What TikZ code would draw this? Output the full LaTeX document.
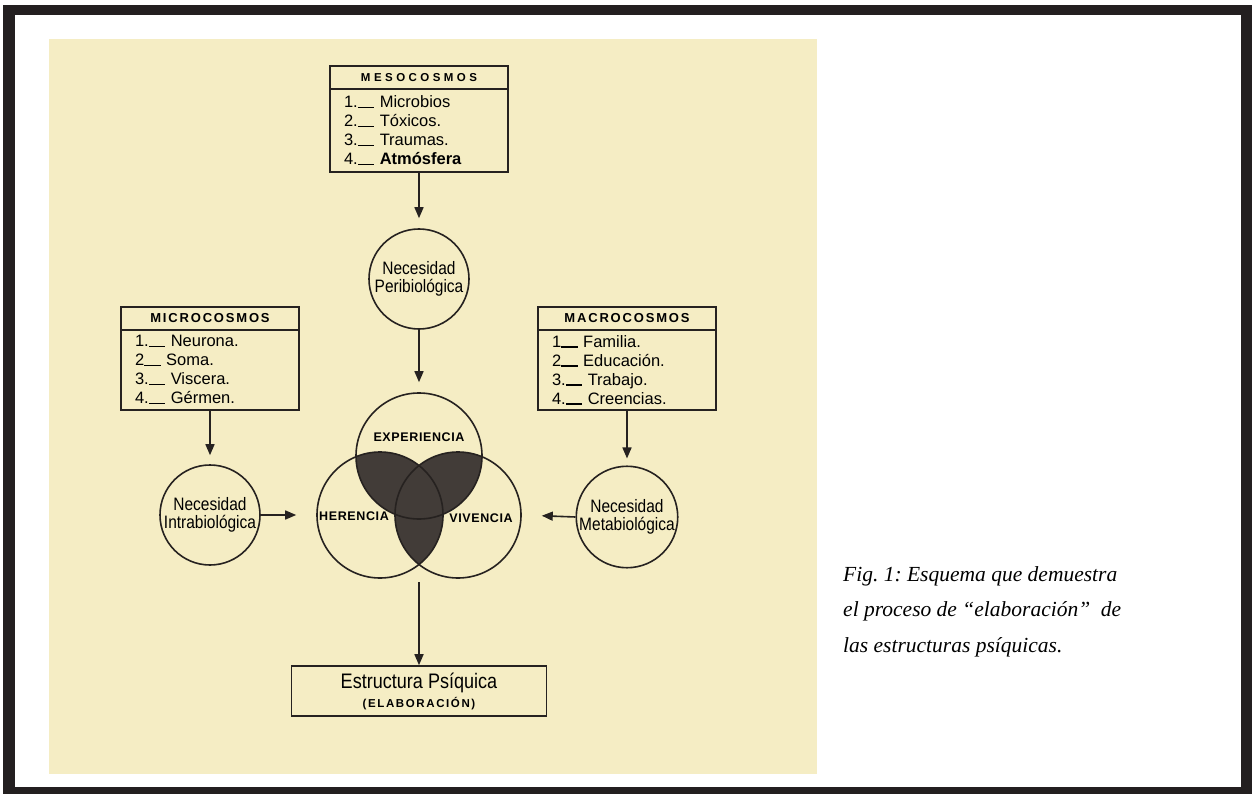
\documentclass[tikz,border=0pt]{standalone}
\usepackage{fontspec}
\setmainfont{Liberation Serif}
\newfontfamily\handfont{Liberation Sans}
\newfontfamily\narrowfont[FakeStretch=0.86]{Liberation Sans}
\newfontfamily\capsfont[LetterSpace=14]{Liberation Sans Bold}
\newfontfamily\widecapsfont[LetterSpace=30]{Liberation Sans Bold}
\newfontfamily\vennfont[LetterSpace=5]{Liberation Sans Bold}
\usetikzlibrary{arrows.meta,positioning}
\definecolor{paper}{RGB}{245,237,196}
\definecolor{ink}{RGB}{38,34,32}
\definecolor{lens}{RGB}{66,60,56}
\definecolor{framecol}{RGB}{35,31,32}
\newcommand\itm[1]{#1\rule[-0.5pt]{1em}{1.3pt}\ }
\tikzset{
  boxtitle/.style={draw=ink, line width=1.6pt, outer sep=0pt, minimum width=178pt, minimum height=23pt, inner sep=0pt, font=\capsfont\fontsize{13}{13}\selectfont},
  boxlist/.style={draw=ink, line width=1.6pt, outer sep=0pt, text width=150pt, minimum height=80pt, inner xsep=14pt, inner ysep=0pt, align=left, font=\handfont\fontsize{16.5}{19}\selectfont},
  need/.style={draw=ink, line width=1.6pt, circle, minimum size=100pt, inner sep=0pt, align=center, font=\narrowfont\fontsize{18}{18}\selectfont},
  venn/.style={draw=ink, line width=1.6pt, circle, minimum size=126pt, inner sep=0pt},
  vennlabel/.style={inner sep=0pt, font=\vennfont\fontsize{12.5}{12.5}\selectfont},
  arr/.style={draw=ink, line width=1.6pt, -{Triangle[width=9pt,length=11pt]}},
}
\begin{document}
\begin{tikzpicture}[x=1pt,y=-1pt]
    \useasboundingbox (0,0) rectangle (1252,794);
    \fill[framecol] (3,5) rectangle (1252,794);
    \fill[white] (15,15) rectangle (1241,787);
    \fill[paper] (49,39) rectangle (817,774);

    \node[boxtitle, font=\widecapsfont\fontsize{11.5}{11.5}\selectfont] (mesoT) at (419,77.5) {MESOCOSMOS};
    \node[boxlist, minimum height=83pt, below=0pt of mesoT] (mesoL) {\itm{1.}Microbios\\\itm{2.}Tóxicos.\\\itm{3.}Traumas.\\\itm{4.}\textbf{Atmósfera}};
    \node[boxtitle] (microT) at (210,318.5) {MICROCOSMOS};
    \node[boxlist, below=0pt of microT] (microL) {\itm{1.}Neurona.\\\itm{2}Soma.\\\itm{3.}Viscera.\\\itm{4.}Gérmen.};
    \node[boxtitle] (macroT) at (627,318.5) {MACROCOSMOS};
    \node[boxlist, below=0pt of macroT] (macroL) {\itm{1}Familia.\\\itm{2}Educación.\\\itm{3.}Trabajo.\\\itm{4.}Creencias.};

    \node[need] (peri) at (419,279) {Necesidad\\Peribiológica};
    \node[need] (intra) at (210,515) {Necesidad\\Intrabiológica};
    \node[need] (meta) at (627,517) {Necesidad\\Metabiológica};

    \begin{scope}
        \clip (419,456) circle (63);
        \fill[lens] (380,515) circle (63);
        \fill[lens] (458,515) circle (63);
    \end{scope}
    \begin{scope}
        \clip (380,515) circle (63);
        \fill[lens] (458,515) circle (63);
    \end{scope}
    \node[venn] (exp) at (419,456) {};
    \node[venn] (her) at (380,515) {};
    \node[venn] (viv) at (458,515) {};
    \node[vennlabel] (expT) at (419,437) {EXPERIENCIA};
    \node[vennlabel] (herT) at (354,516) {HERENCIA};
    \node[vennlabel] (vivT) at (481,518) {VIVENCIA};
    \coordinate (vennbot) at (419,582);

    \node[draw=ink, line width=1.6pt, minimum width=255pt, minimum height=50pt, align=center, inner sep=0pt, font=\narrowfont\fontsize{21}{20}\selectfont] (estr) at (419,691) {Estructura Psíquica\\[-1pt]{\capsfont\fontsize{11.5}{11.5}\selectfont (ELABORACIÓN)}};

    \draw[arr, shorten >=10pt] (mesoL.south) -- (peri.north);
    \draw[arr, shorten >=10pt] (peri.south) -- (exp.north);
    \draw[arr, shorten >=9pt] (microL.south) -- (intra.north);
    \draw[arr, shorten >=7pt] (macroL.south) -- (meta.north);
    \draw[arr, shorten >=20pt] (intra.east) -- (her.west);
    \draw[arr, shorten >=20pt] (meta.west) -- (viv.east);
    \draw[arr] (vennbot) -- (estr.north);

    \node[anchor=north west, align=left, inner sep=0pt, font=\frenchspacing\itshape\fontsize{21.5}{35.5}\selectfont] (caption) at (843,566) {Fig. 1: Esquema que demuestra\\el proceso de “elaboración”\ \ de\\las estructuras psíquicas.};
\end{tikzpicture}
\end{document}
